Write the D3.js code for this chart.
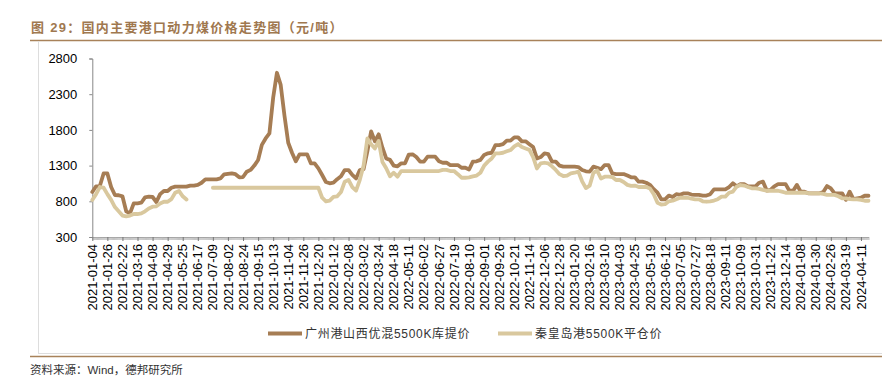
<!DOCTYPE html>
<html>
<head>
<meta charset="utf-8">
<script src="https://cdn.jsdelivr.net/npm/d3@7"></script>
<style>
    body { margin: 0; background: #fff; }
    svg { display: block; }
</style>
</head>
<body>
<div id="chart"></div>
<script>
// 国内主要港口动力煤价格走势图 - D3 line chart

// x axis labels (every 16th trading day)
var labelDates = [
    '2021-01-04', '2021-01-26', '2021-02-22', '2021-03-16', '2021-04-08', '2021-04-29',
    '2021-05-25', '2021-06-17', '2021-07-09', '2021-08-02', '2021-08-24', '2021-09-15',
    '2021-10-13', '2021-11-04', '2021-11-26', '2021-12-20', '2022-01-12', '2022-02-08',
    '2022-03-02', '2022-03-24', '2022-04-18', '2022-05-11', '2022-06-02', '2022-06-27',
    '2022-07-19', '2022-08-10', '2022-09-01', '2022-09-26', '2022-10-21', '2022-11-14',
    '2022-12-06', '2022-12-28', '2023-01-20', '2023-02-16', '2023-03-10', '2023-04-03',
    '2023-04-25', '2023-05-19', '2023-06-12', '2023-07-05', '2023-07-27', '2023-08-18',
    '2023-09-11', '2023-10-09', '2023-10-31', '2023-11-22', '2023-12-14', '2024-01-08',
    '2024-01-30', '2024-02-26', '2024-03-19', '2024-04-11'
];
var labelEvery = 16;      // trading days between labels
var dayCount = 825;       // trading days on the axis
var sampleStep = 4;       // values below are read every 4 trading days

// 广州港山西优混5500K库提价 (元/吨)
var gzPrice = [
    930, 1010, 1014, 1190, 1190, 1000, 888, 885, 870, 660,
    630, 772, 772, 780, 856, 865, 860, 790, 900, 944,
    944, 990, 1005, 1005, 1005, 1005, 1020, 1020, 1030, 1060,
    1108, 1108, 1108, 1108, 1120, 1178, 1185, 1192, 1180, 1136,
    1140, 1215, 1240, 1300, 1378, 1590, 1680, 1750, 2250, 2600,
    2430, 2000, 1620, 1480, 1360, 1458, 1458, 1458, 1332, 1332,
    1262, 1168, 1070, 1052, 1060, 1110, 1150, 1238, 1238, 1170,
    1120, 1238, 1250, 1500, 1780, 1640, 1738, 1550, 1400, 1380,
    1300, 1290, 1332, 1332, 1455, 1458, 1420, 1355, 1355, 1425,
    1425, 1425, 1360, 1340, 1340, 1308, 1308, 1308, 1270, 1270,
    1245, 1355, 1360, 1380, 1450, 1472, 1480, 1588, 1588, 1600,
    1649, 1650, 1696, 1696, 1640, 1640, 1600, 1560, 1400, 1420,
    1472, 1460, 1355, 1355, 1300, 1285, 1285, 1285, 1285, 1280,
    1238, 1220, 1215, 1285, 1270, 1250, 1308, 1308, 1190, 1182,
    1182, 1182, 1160, 1136, 1136, 1075, 1075, 1060, 1030, 970,
    920, 828, 828, 880, 860, 900, 890, 912, 912, 895,
    890, 890, 880, 880, 900, 968, 968, 968, 968, 1000,
    1052, 1010, 1040, 1040, 1010, 1010, 1010, 1060, 1075, 950,
    960, 1010, 1040, 1040, 1040, 948, 948, 1030, 935, 935,
    912, 912, 912, 912, 930, 1014, 980, 912, 912, 912,
    820, 935, 830, 842, 850, 878, 878
];

// 秦皇岛港5500K平仓价 (元/吨), null = no quote
var qhdPrice = [
    818, 900, 1000, 990, 900, 820, 720, 660, 600, 590,
    600, 622, 622, 630, 660, 700, 724, 730, 770, 794,
    794, 830, 920, 945, 870, 825, null, null, null, null,
    null, null, 990, 990, 990, 990, 990, 990, 990, 990,
    990, 990, 990, 990, 990, 990, 990, 990, 990, 990,
    990, 990, 990, 990, 990, 990, 990, 990, 990, 990,
    990, 850, 800, 810, 862, 870, 930, 1075, 1100, 1000,
    950, 1100, 1300, 1680, 1600, 1540, 1645, 1350, 1262, 1150,
    1200, 1145, 1224, 1224, 1224, 1224, 1224, 1224, 1224, 1224,
    1224, 1224, 1224, 1240, 1240, 1224, 1224, 1180, 1130, 1130,
    1135, 1150, 1160, 1200, 1300, 1355, 1400, 1472, 1472, 1480,
    1500, 1518, 1570, 1602, 1560, 1540, 1520, 1420, 1260, 1330,
    1340, 1330, 1290, 1240, 1180, 1154, 1160, 1190, 1200, 1215,
    1080, 985, 1020, 1200, 1230, 1120, 1145, 1145, 1140, 1098,
    1098, 1070, 1030, 1015, 1020, 1000, 1000, 1000, 980, 900,
    780, 755, 760, 800, 808, 830, 850, 850, 850, 838,
    828, 828, 800, 794, 800, 810, 830, 865, 865, 920,
    935, 1005, 1028, 1020, 1000, 982, 982, 975, 960, 948,
    948, 948, 948, 935, 920, 920, 920, 920, 920, 920,
    915, 912, 912, 912, 905, 890, 890, 890, 870, 842,
    842, 830, 828, 828, 820, 808, 808
];

var yTicks = [300, 800, 1300, 1800, 2300, 2800];
var seriesNames = ['广州港山西优混5500K库提价', '秦皇岛港5500K平仓价'];
var seriesColors = ['#a67d54', '#d9c89e'];
var titleText = '图 29：国内主要港口动力煤价格走势图（元/吨）';
var sourceText = '资料来源：Wind，德邦研究所';

var width = 882, height = 380;
var accent = '#a8825a';
var latinFont = 'Liberation Sans, Arial, Noto Sans CJK SC, sans-serif';

var svg = d3.select('#chart')
    .append('svg')
    .attr('width', width)
    .attr('height', height);

// Title + rules
svg.append('text')
    .attr('x', 31)
    .attr('y', 31.5)
    .attr('font-family', latinFont)
    .attr('font-size', '13px')
    .attr('font-weight', 'bold')
    .attr('letter-spacing', '1.3px')
    .attr('fill', '#a0784f')
    .text(titleText);

svg.append('line')
    .attr('x1', 30).attr('x2', width)
    .attr('y1', 40.5).attr('y2', 40.5)
    .attr('stroke', accent)
    .attr('stroke-width', 1.5);

// light frame of the chart box
svg.append('line')
    .attr('x1', 38.5).attr('x2', 38.5)
    .attr('y1', 41).attr('y2', 354)
    .attr('stroke', '#dddddd');
svg.append('line')
    .attr('x1', 38).attr('x2', width)
    .attr('y1', 353.5).attr('y2', 353.5)
    .attr('stroke', '#dddddd');

svg.append('line')
    .attr('x1', 30).attr('x2', width)
    .attr('y1', 356.5).attr('y2', 356.5)
    .attr('stroke', accent)
    .attr('stroke-width', 1.5);

svg.append('text')
    .attr('x', 30)
    .attr('y', 374)
    .attr('font-family', latinFont)
    .attr('font-size', '11.5px')
    .attr('fill', '#333')
    .text(sourceText);

// Scales
var x = d3.scaleLinear().domain([0, dayCount - 1]).range([92.3, 868.5]);
var y = d3.scaleLinear().domain([300, 2800]).range([237, 58.5]);

// Y axis
var yAxis = svg.append('g')
    .attr('transform', 'translate(' + x(0) + ',0)')
    .call(d3.axisLeft(y).tickValues(yTicks).tickFormat(d3.format('d')).tickSize(3).tickPadding(12));
yAxis.select('.domain').attr('stroke', '#888');
yAxis.selectAll('.tick line').attr('stroke', '#888');
yAxis.selectAll('text')
    .attr('font-family', latinFont)
    .attr('font-size', '13px')
    .attr('fill', '#000');

// X axis: one small tick per trading day, darker tick at every label
var xAxis = svg.append('g')
    .attr('transform', 'translate(0,' + y(300) + ')')
    .call(d3.axisBottom(x).tickValues(d3.range(dayCount)).tickSize(3).tickFormat('').tickSizeOuter(0));
xAxis.select('.domain').attr('stroke', '#888');
xAxis.selectAll('.tick line').attr('stroke', '#b5b5b5').attr('stroke-width', 0.8);

var labelIdx = labelDates.map(function(d, i) { return i * labelEvery; });

var xMajor = svg.append('g')
    .attr('transform', 'translate(0,' + y(300) + ')')
    .call(d3.axisBottom(x).tickValues(labelIdx).tickSize(4).tickFormat('').tickSizeOuter(0));
xMajor.select('.domain').remove();
xMajor.selectAll('.tick line').attr('stroke', '#777');

svg.append('g')
    .selectAll('text')
    .data(labelDates)
    .enter()
    .append('text')
    .attr('transform', function(d, i) {
        return 'translate(' + x(labelIdx[i]) + ',' + (y(300) + 7) + ') rotate(-90)';
    })
    .attr('dy', '0.35em')
    .attr('text-anchor', 'end')
    .attr('font-family', latinFont)
    .attr('font-size', '13px')
    .attr('fill', '#000')
    .text(function(d) { return d; });

// Lines
var line = d3.line()
    .defined(function(d) { return d != null; })
    .x(function(d, i) { return x(i * sampleStep); })
    .y(function(d) { return y(d); });

[gzPrice, qhdPrice].forEach(function(series, k) {
    svg.append('path')
        .datum(series)
        .attr('d', line)
        .attr('fill', 'none')
        .attr('stroke', seriesColors[k])
        .attr('stroke-width', 3.8)
        .attr('stroke-linejoin', 'round')
        .attr('stroke-linecap', 'round');
});

// Legend
var legendX = [268, 498];
var legend = svg.append('g')
    .selectAll('g')
    .data(seriesNames)
    .enter()
    .append('g')
    .attr('transform', function(d, i) { return 'translate(' + legendX[i] + ',333.5)'; });

legend.append('line')
    .attr('x1', 0).attr('x2', 34)
    .attr('stroke', function(d, i) { return seriesColors[i]; })
    .attr('stroke-width', 4);

legend.append('text')
    .attr('x', 37)
    .attr('dy', '0.35em')
    .attr('font-family', latinFont)
    .attr('font-size', '12px')
    .attr('letter-spacing', '0.7px')
    .attr('fill', '#333')
    .text(function(d) { return d; });
</script>
</body>
</html>
